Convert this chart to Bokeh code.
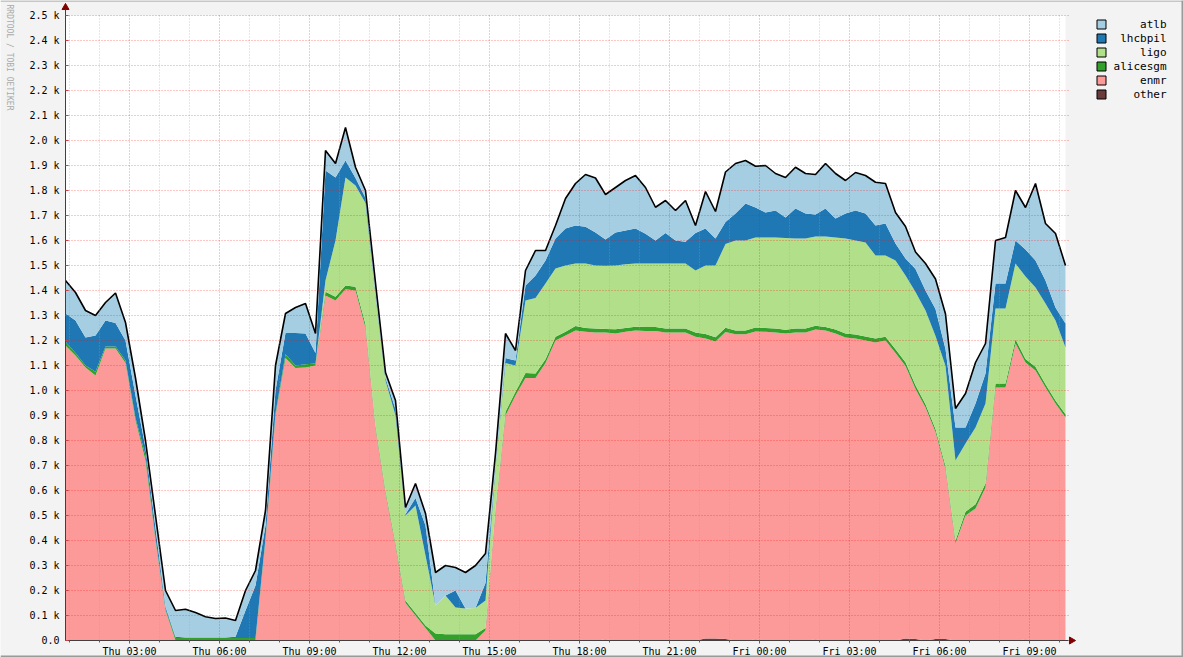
import numpy as np
from bokeh.plotting import figure
from bokeh.models import FixedTicker, ColumnDataSource, Range1d
from bokeh.core.properties import value
from bokeh.embed import file_html
from bokeh.resources import INLINE

# ---------------- data (job counts, samples every 20 minutes) ----------------
start_hour = 52 / 60.0          # Thu 00:52, hours since Thu 00:00
step_hours = 1 / 3.0            # 20 minute samples

enmr = [1180, 1140, 1092, 1060, 1168, 1168, 1110, 880, 720, 400,
        120, 0, 0, 0, 0, 0, 0, 0, 0, 0,
        400, 900, 1130, 1090, 1092, 1100, 1380, 1360, 1405, 1400,
        1250, 850, 590, 380, 150, 100, 50, 0, 0, 0,
        0, 0, 40, 520, 900, 980, 1050, 1050, 1110, 1200,
        1220, 1240, 1235, 1232, 1228, 1228, 1235, 1240, 1238, 1238,
        1232, 1232, 1232, 1215, 1200, 1188, 1228, 1225, 1225, 1232,
        1235, 1232, 1228, 1232, 1232, 1240, 1240, 1228, 1212, 1208,
        1200, 1192, 1200, 1150, 1090, 1000, 932, 828, 680, 388,
        500, 528, 612, 1012, 1012, 1188, 1108, 1080, 1012, 948,
        892]
alicesgm = [15, 10, 8, 15, 8, 8, 10, 10, 20, 10,
            5, 10, 10, 10, 10, 10, 10, 10, 10, 10,
            10, 10, 15, 10, 13, 8, 15, 15, 15, 15,
            15, 10, 10, 10, 10, 10, 10, 28, 25, 25,
            25, 25, 10, 10, 15, 15, 20, 18, 15, 15,
            15, 18, 15, 16, 14, 17, 15, 15, 16, 16,
            16, 16, 16, 17, 18, 17, 17, 15, 15, 16,
            15, 16, 15, 16, 16, 15, 14, 16, 16, 16,
            16, 16, 15, 15, 15, 15, 13, 12, 12, 12,
            15, 17, 16, 16, 16, 17, 14, 15, 13, 12,
            13]
ligo = [0, 0, 0, 0, 0, 0, 0, 0, 0, 0,
        0, 0, 0, 0, 0, 0, 0, 0, 0, 0,
        0, 0, 0, 0, 0, 0, 45, 225, 432, 405,
        485, 520, 440, 510, 340, 430, 280, 112, 155, 107,
        103, 105, 110, 162, 195, 105, 290, 302, 303, 273,
        265, 250, 258, 252, 253, 255, 255, 253, 254, 254,
        260, 260, 260, 248, 274, 287, 335, 360, 360, 360,
        362, 364, 367, 360, 360, 357, 362, 368, 380, 376,
        376, 332, 325, 355, 347, 373, 375, 372, 400, 320,
        273, 307, 320, 300, 300, 303, 330, 317, 323, 320,
        267]
lhcbpil = [113, 130, 112, 145, 104, 94, 80, 90, 30, 40,
           10, 5, 2, 2, 2, 2, 2, 5, 110, 210,
           50, 90, 85, 130, 123, 42, 440, 252, 68, 30,
           20, 10, 10, 25, 5, 30, 120, 0, 0, 68,
           0, 0, 70, 8, 20, 20, 60, 90, 92, 120,
           148, 152, 147, 132, 105, 132, 135, 140, 119, 92,
           122, 92, 87, 150, 148, 108, 88, 108, 148, 120,
           100, 108, 82, 120, 100, 88, 112, 76, 100, 120,
           116, 120, 128, 68, 68, 92, 80, 108, 68, 132,
           64, 96, 120, 100, 100, 92, 108, 108, 92, 52,
           96]
atlb = [132, 112, 108, 80, 72, 120, 72, 70, 30, 50,
        65, 105, 113, 100, 83, 76, 78, 65, 80, 60,
        60, 100, 78, 102, 120, 78, 80, 56, 132, 43,
        30, 40, 22, 35, 27, 58, 48, 132, 120, 92,
        144, 170, 118, 48, 98, 40, 60, 100, 40, 52,
        120, 168, 209, 218, 180, 180, 200, 212, 185, 133,
        130, 120, 165, 30, 148, 108, 200, 200, 172, 165,
        188, 148, 160, 165, 160, 160, 180, 180, 132, 152,
        152, 173, 160, 124, 128, 68, 108, 120, 140, 76,
        136, 164, 120, 172, 184, 200, 168, 308, 228, 296,
        232]
other = [0, 0, 0, 0, 0, 0, 0, 0, 0, 0,
         0, 0, 0, 0, 0, 0, 0, 0, 0, 0,
         0, 0, 0, 0, 0, 0, 0, 0, 0, 0,
         0, 0, 0, 0, 0, 0, 0, 0, 0, 0,
         0, 0, 0, 0, 0, 0, 0, 0, 0, 0,
         0, 0, 0, 0, 4, 0, 0, 0, 0, 0,
         0, 0, 0, 0, 8, 8, 6, 0, 0, 4,
         0, 0, 0, 0, 0, 4, 0, 0, 0, 0,
         0, 0, 0, 0, 8, 6, 0, 6, 6, 0,
         0, 0, 0, 0, 0, 0, 4, 0, 0, 0,
         0]

stack_order = ["other", "enmr", "alicesgm", "ligo", "lhcbpil", "atlb"]
legend_order = ["atlb", "lhcbpil", "ligo", "alicesgm", "enmr", "other"]
series_colors = {"atlb": "#A6CEE3", "lhcbpil": "#1F78B4", "ligo": "#B2DF8A",
                 "alicesgm": "#33A02C", "enmr": "#FB9A99", "other": "#6B3B3B"}

x_tick_hours = [3, 6, 9, 12, 15, 18, 21, 24, 27, 30, 33]
x_tick_labels = ["Thu 03:00", "Thu 06:00", "Thu 09:00", "Thu 12:00",
                 "Thu 15:00", "Thu 18:00", "Thu 21:00", "Fri 00:00",
                 "Fri 03:00", "Fri 06:00", "Fri 09:00"]
x_minor_hours = [1, 2, 4, 5, 7, 8, 10, 11, 13, 14, 16, 17, 19, 20, 22, 23,
                 25, 26, 28, 29, 31, 32, 34]
y_ticks = [0, 100, 200, 300, 400, 500, 600, 700, 800, 900, 1000, 1100, 1200,
           1300, 1400, 1500, 1600, 1700, 1800, 1900, 2000, 2100, 2200, 2300,
           2400, 2500]
y_tick_labels = ["0.0", "0.1 k", "0.2 k", "0.3 k", "0.4 k", "0.5 k", "0.6 k",
                 "0.7 k", "0.8 k", "0.9 k", "1.0 k", "1.1 k", "1.2 k", "1.3 k",
                 "1.4 k", "1.5 k", "1.6 k", "1.7 k", "1.8 k", "1.9 k", "2.0 k",
                 "2.1 k", "2.2 k", "2.3 k", "2.4 k", "2.5 k"]
watermark = "RRDTOOL / TOBI OETIKER"

# ---------------- geometry (the frame covers the whole canvas) ----------------
W, H = 1183, 657
PX_L, PX_R, PX_T, PX_B = 65, 1065, 15, 640     # plot area in canvas pixels
Y_MAX = 2500

n = len(enmr)
t = start_hour + step_hours * np.arange(n)
t0, t1 = float(t[0]), float(t[-1])
xs_per_px = (t1 - t0) / (PX_R - PX_L)
ys_per_px = Y_MAX / (PX_B - PX_T)


def X(px):          # canvas x pixel -> data x
    return t0 + (px - PX_L) * xs_per_px


def Y(py):          # canvas y pixel (down) -> data y
    return (PX_B - py) * ys_per_px


data = dict(t=t, enmr=enmr, alicesgm=alicesgm, ligo=ligo, lhcbpil=lhcbpil,
            atlb=atlb, other=other)
data["total"] = np.sum([np.array(data[k], dtype=float) for k in stack_order], axis=0)
src = ColumnDataSource(data)

MONO = "DejaVu Sans Mono"
p = figure(width=W, height=H, output_backend="svg", toolbar_location=None,
           x_range=Range1d(X(0), X(W)), y_range=Range1d(Y(H), Y(0)),
           min_border_left=0, min_border_right=0, min_border_top=0,
           min_border_bottom=0)
p.border_fill_color = "#F3F3F3"
p.background_fill_color = "#F3F3F3"
p.outline_line_color = None
p.xgrid.grid_line_color = None
p.ygrid.grid_line_color = None

# white plotting area
p.quad(left=[t0], right=[t1], bottom=[0], top=[Y_MAX], fill_color="#FFFFFF",
       line_color=None)

# stacked areas + total line
p.varea_stack(stackers=stack_order, x="t",
              color=[series_colors[k] for k in stack_order], source=src)
p.line("t", "total", source=src, line_color="#000000", line_width=1.6)

# grid lines drawn on top (rrdtool style)
p.segment(x0=x_minor_hours, y0=[0] * len(x_minor_hours), x1=x_minor_hours,
          y1=[Y_MAX] * len(x_minor_hours), line_color="#A0A0A0", line_alpha=0.5,
          line_dash="1 2", line_width=1)
p.segment(x0=x_tick_hours, y0=[0] * len(x_tick_hours), x1=x_tick_hours,
          y1=[Y_MAX] * len(x_tick_hours), line_color="#FF0000", line_alpha=0.45,
          line_dash="1 2", line_width=1)
p.segment(x0=[t0] * len(y_ticks), y0=y_ticks, x1=[X(PX_R + 3)] * len(y_ticks),
          y1=y_ticks, line_color="#FF0000", line_alpha=0.45, line_dash="1 2",
          line_width=1)

# axes placed inside the (full-canvas) frame
xa = p.xaxis[0]
xa.fixed_location = 0
xa.bounds = (t0, X(PX_R + 3))
xa.ticker = FixedTicker(ticks=x_tick_hours, minor_ticks=x_minor_hours)
xa.major_label_overrides = {h: lab for h, lab in zip(x_tick_hours, x_tick_labels)}
xa.axis_line_color = "#404040"
xa.major_tick_line_color = "#B04040"
xa.minor_tick_line_color = "#B04040"
xa.major_tick_in, xa.major_tick_out = 0, 3
xa.minor_tick_in, xa.minor_tick_out = 0, 2
xa.major_label_standoff = 2
xa.major_label_text_font = MONO
xa.major_label_text_font_size = "10px"
xa.major_label_text_color = "#000000"

ya = p.yaxis[0]
ya.fixed_location = t0
ya.bounds = (0, Y(PX_T - 6))
ya.ticker = FixedTicker(ticks=y_ticks)
ya.major_label_overrides = {v: lab for v, lab in zip(y_ticks, y_tick_labels)}
ya.axis_line_color = "#404040"
ya.major_tick_line_color = "#D04040"
ya.major_tick_in, ya.major_tick_out = 3, 0
ya.minor_tick_line_color = None
ya.major_label_standoff = 6
ya.major_label_text_font = MONO
ya.major_label_text_font_size = "10px"
ya.major_label_text_color = "#000000"

# axis arrow heads
p.scatter(x=[t0], y=[Y(PX_T - 8)], marker="triangle", size=7,
          fill_color="#800000", line_color="#800000")
p.scatter(x=[X(PX_R + 6)], y=[0], marker="triangle", angle=-np.pi / 2, size=7,
          fill_color="#800000", line_color="#800000")

# legend: boxed swatches and right-aligned names
row0, row_gap = 24, 14
rows_y = [Y(row0 + i * row_gap) for i in range(len(legend_order))]
p.scatter(x=[X(1101)] * len(legend_order), y=rows_y, marker="square", size=9,
          fill_color=[series_colors[k] for k in legend_order],
          line_color="#000000", line_width=1)
p.text(x=[X(1166)] * len(legend_order), y=rows_y, text=legend_order,
       text_font=value(MONO), text_font_size=value("11px"), text_color="#000000",
       text_align="right", text_baseline="middle")

# vertical watermark
p.text(x=[X(4)], y=[Y(4)], text=[watermark], angle=-np.pi / 2,
       text_font=value(MONO), text_font_size=value("8px"), text_color="#AAAAAA",
       text_align="left", text_baseline="bottom")

# image frame edges (top, right, bottom)
p.segment(x0=[X(0), X(W - 1), X(0)], y0=[Y(0.5), Y(0), Y(H - 1)],
          x1=[X(W), X(W - 1), X(W)], y1=[Y(0.5), Y(H), Y(H - 1)],
          line_color="#9A9A9A", line_width=[1, 2, 2])

open("out.html", "w").write(file_html(p, INLINE))
